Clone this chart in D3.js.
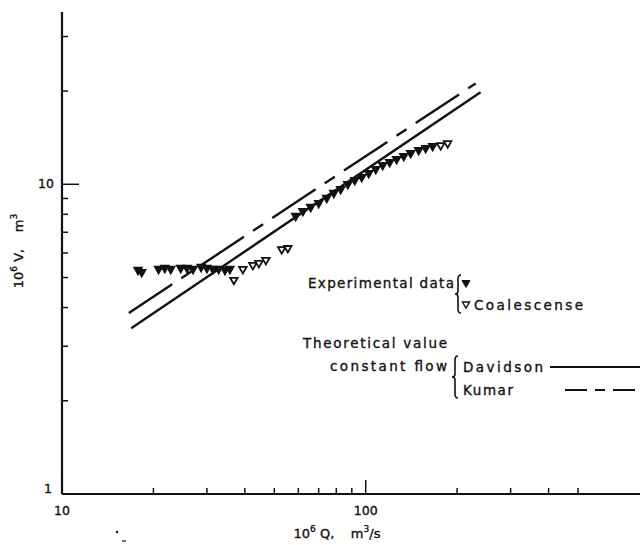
<!DOCTYPE html>
<html>
<head>
<meta charset="utf-8">
<script src="https://cdn.jsdelivr.net/npm/d3@7"></script>
<style>
  html, body { margin: 0; padding: 0; background: #fff; }
  svg text { font-family: "DejaVu Sans", sans-serif; fill: #111; stroke: #111; stroke-width: 0.35; white-space: pre; }
</style>
</head>
<body>
<svg id="chart" width="640" height="545"></svg>
<script>
// ---- data ----
const filledQ = [17.8, 18.3, 20.8, 21.8, 22.8, 24.6, 25.8, 27.0, 28.7, 30.0, 31.4, 32.8, 34.4, 35.7,
                 58.8, 62.1, 65.9, 70.0, 74.4, 78.5, 82.7, 87.3, 92.0, 97.0, 102.3, 107.9, 113.7,
                 119.9, 126.4, 133.4, 140.6, 149.4, 157.5, 166.1];
const filledV = [5.24, 5.16, 5.28, 5.32, 5.28, 5.32, 5.32, 5.28, 5.36, 5.32, 5.28, 5.28, 5.24, 5.28,
                 7.83, 8.12, 8.37, 8.62, 8.95, 9.29, 9.56, 9.93, 10.22, 10.46, 10.77, 11.10, 11.43,
                 11.69, 11.95, 12.22, 12.50, 12.78, 12.97, 13.16];
const coalQ = [36.8, 39.4, 42.5, 44.5, 46.9, 52.9, 55.4, 176.5, 186.1];
const coalV = [4.87, 5.28, 5.44, 5.52, 5.65, 6.12, 6.17, 13.26, 13.46];
const davidsonQ = [16.9, 238.8];
const davidsonV = [3.43, 19.81];
const kumarQ = [16.6, 230.1];
const kumarV = [3.84, 21.17];
const xMinorTicks = [20, 30, 40, 50, 60, 70, 80, 90, 200, 300, 400, 500];
const xMajorTicks = [100];
const xTickLabels = [10, 100];
const yMinorTicks = [2, 3, 4, 5, 6, 7, 8, 9, 20, 30];
const yMajorTicks = [10];
const yTickLabels = [1, 10];

const svg = d3.select("#chart");
const x = d3.scaleLog().domain([10, 800]).range([62, 640]);
const y = d3.scaleLog().domain([1, 36]).range([494, 12]);
const ink = "#111";

// axes lines
svg.append("line").attr("x1", x(10)).attr("x2", x(800)).attr("y1", y(1)).attr("y2", y(1))
  .attr("stroke", ink).attr("stroke-width", 2.2);
svg.append("line").attr("x1", x(10)).attr("x2", x(10)).attr("y1", y(1)).attr("y2", y(36))
  .attr("stroke", ink).attr("stroke-width", 2.2);

// x ticks (pointing inward / up)
svg.selectAll(".xminor").data(xMinorTicks).join("line")
  .attr("x1", d => x(d)).attr("x2", d => x(d)).attr("y1", y(1)).attr("y2", y(1) - 6)
  .attr("stroke", ink).attr("stroke-width", 1.5);
svg.selectAll(".xmajor").data(xMajorTicks).join("line")
  .attr("x1", d => x(d)).attr("x2", d => x(d)).attr("y1", y(1)).attr("y2", y(1) - 14)
  .attr("stroke", ink).attr("stroke-width", 1.5);
svg.selectAll(".xlab").data(xTickLabels).join("text")
  .attr("x", d => x(d)).attr("y", y(1) + 21).attr("text-anchor", "middle")
  .attr("font-size", 12.5).text(d => d);

// y ticks (pointing right)
svg.selectAll(".yminor").data(yMinorTicks).join("line")
  .attr("x1", x(10)).attr("x2", x(10) + 6).attr("y1", d => y(d)).attr("y2", d => y(d))
  .attr("stroke", ink).attr("stroke-width", 1.5);
svg.selectAll(".ymajor").data(yMajorTicks).join("line")
  .attr("x1", x(10)).attr("x2", x(10) + 17).attr("y1", d => y(d)).attr("y2", d => y(d))
  .attr("stroke", ink).attr("stroke-width", 1.5);
svg.selectAll(".ylab").data(yTickLabels).join("text")
  .attr("x", d => d === 1 ? x(10) - 10 : x(10) - 8).attr("y", d => y(d) + (d === 1 ? -1 : 4))
  .attr("text-anchor", "end").attr("font-size", 12.5).text(d => d);

// axis titles
const xt = svg.append("text").attr("x", 337).attr("y", 538).attr("text-anchor", "middle").attr("font-size", 13);
xt.append("tspan").text("10");
xt.append("tspan").attr("font-size", 9).attr("dy", -6).text("6");
xt.append("tspan").attr("dy", 6).text(" Q,    m");
xt.append("tspan").attr("font-size", 9).attr("dy", -6).text("3");
xt.append("tspan").attr("dy", 6).text("/s");

const yt = svg.append("text").attr("transform", "translate(23,251) rotate(-90)")
  .attr("text-anchor", "middle").attr("font-size", 13);
yt.append("tspan").text("10");
yt.append("tspan").attr("font-size", 9).attr("dy", -6).text("6");
yt.append("tspan").attr("dy", 6).text(" V,    m");
yt.append("tspan").attr("font-size", 9).attr("dy", -6).text("3");

// small scan marks near bottom-left
svg.append("circle").attr("cx", 117).attr("cy", 532).attr("r", 1.2).attr("fill", ink);
svg.append("line").attr("x1", 122).attr("x2", 126).attr("y1", 541).attr("y2", 541).attr("stroke", ink).attr("stroke-width", 1.2);

// theoretical lines
const lineGen = d3.line().x(d => x(d[0])).y(d => y(d[1]));
svg.append("path").datum(davidsonQ.map((q, i) => [q, davidsonV[i]]))
  .attr("d", lineGen).attr("fill", "none").attr("stroke", ink).attr("stroke-width", 2.4);
svg.append("path").datum(kumarQ.map((q, i) => [q, kumarV[i]]))
  .attr("d", lineGen).attr("fill", "none").attr("stroke", ink).attr("stroke-width", 2.4)
  .attr("stroke-dasharray", "52,11,12,11");

// markers: downward triangles
function tri(w, h) { return `M${-w/2},${-h/2}L${w/2},${-h/2}L0,${h/2}Z`; }
svg.selectAll(".filled").data(filledQ.map((q, i) => [q, filledV[i]])).join("path")
  .attr("d", tri(8.5, 7.5)).attr("transform", d => `translate(${x(d[0])},${y(d[1])})`)
  .attr("fill", ink).attr("stroke", ink).attr("stroke-width", 1.2);
svg.selectAll(".coal").data(coalQ.map((q, i) => [q, coalV[i]])).join("path")
  .attr("d", tri(7.5, 6.5)).attr("transform", d => `translate(${x(d[0])},${y(d[1])})`)
  .attr("fill", "#fff").attr("stroke", ink).attr("stroke-width", 1.8);

// legend
function brace(xp, y0, y1) {
  const m = (y0 + y1) / 2;
  return `M${xp+3},${y0} Q${xp},${y0} ${xp},${y0+4} L${xp},${m-3} Q${xp},${m} ${xp-3},${m} Q${xp},${m} ${xp},${m+3} L${xp},${y1-4} Q${xp},${y1} ${xp+3},${y1}`;
}
const lg = svg.append("g");
lg.append("text").attr("x", 308).attr("y", 288).attr("font-size", 13.5).attr("textLength", 146).attr("lengthAdjust", "spacing").text("Experimental data");
lg.append("path").attr("d", brace(458, 275, 313)).attr("fill", "none").attr("stroke", ink).attr("stroke-width", 1.6);
lg.append("path").attr("d", tri(8, 7)).attr("transform", "translate(466,284)").attr("fill", ink).attr("stroke", ink);
lg.append("path").attr("d", tri(7, 6)).attr("transform", "translate(466,305)").attr("fill", "#fff").attr("stroke", ink).attr("stroke-width", 1.4);
lg.append("text").attr("x", 474).attr("y", 310).attr("font-size", 13.5).attr("textLength", 109).attr("lengthAdjust", "spacing").text("Coalescense");

lg.append("text").attr("x", 303).attr("y", 348).attr("font-size", 13.5).attr("textLength", 144).attr("lengthAdjust", "spacing").text("Theoretical value");
lg.append("text").attr("x", 330).attr("y", 371).attr("font-size", 13.5).attr("textLength", 117).attr("lengthAdjust", "spacing").text("constant flow");
lg.append("path").attr("d", brace(455, 356, 398)).attr("fill", "none").attr("stroke", ink).attr("stroke-width", 1.6);
lg.append("text").attr("x", 463).attr("y", 372).attr("font-size", 13.5).attr("textLength", 80).attr("lengthAdjust", "spacing").text("Davidson");
lg.append("line").attr("x1", 550).attr("x2", 640).attr("y1", 367).attr("y2", 367).attr("stroke", ink).attr("stroke-width", 1.8);
lg.append("text").attr("x", 463).attr("y", 395).attr("font-size", 13.5).attr("textLength", 50).attr("lengthAdjust", "spacing").text("Kumar");
lg.append("line").attr("x1", 565).attr("x2", 640).attr("y1", 390).attr("y2", 390).attr("stroke", ink).attr("stroke-width", 1.8)
  .attr("stroke-dasharray", "22,8,10,8");
</script>
</body>
</html>
